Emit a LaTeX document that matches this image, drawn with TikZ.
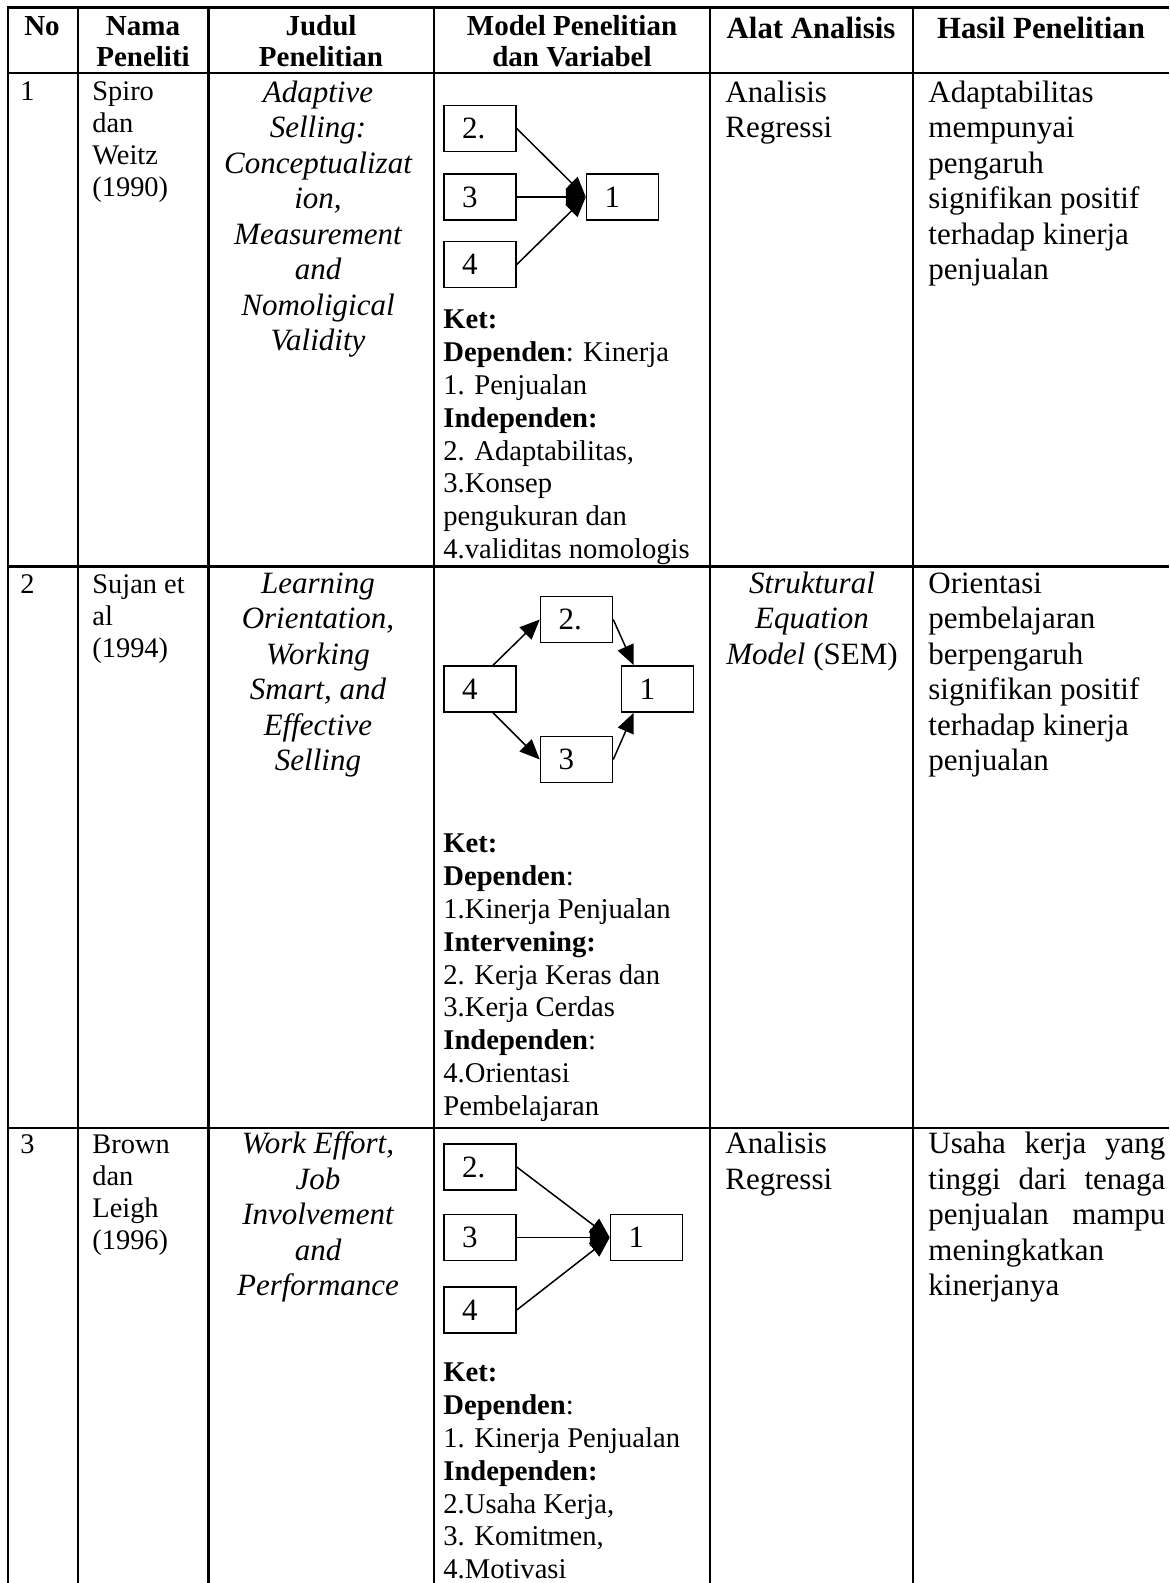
\documentclass[tikz,border=0pt]{standalone}
\usepackage{fontspec}
\setmainfont{Liberation Serif}
\usepackage{tikz}
\usetikzlibrary{positioning,arrows.meta}

\newcommand{\bodyfont}{\fontsize{15.5pt}{17.75pt}\selectfont}
\newcommand{\namefont}{\fontsize{14.2pt}{16pt}\selectfont}
\newcommand{\ketfont}{\fontsize{14.3pt}{16.45pt}\selectfont}
\newcommand{\headfont}{\fontsize{14.5pt}{15.5pt}\selectfont\bfseries}
\newcommand{\bighead}{\fontsize{15.4pt}{16pt}\selectfont\bfseries}

\tikzset{
  grid/.style={line width=1.1pt},
  cell/.style={anchor=north west,inner sep=0pt,align=left,font=\bodyfont},
  ccell/.style={anchor=north,inner sep=0pt,align=center,font=\bodyfont},
  var/.style={draw,line width=0.75pt,minimum width=36pt,minimum height=23pt,
    text width=18pt,inner xsep=9pt,inner ysep=0pt,font=\bodyfont},
  pengaruh/.style={-{Triangle[length=10pt,width=8.5pt]},line width=0.75pt},
}

\begin{document}
\begin{tikzpicture}[x=0.5pt,y=-0.5pt]
                \useasboundingbox (0,0) rectangle (1169,1583);
                \draw[grid] (7,7.5) -- (1169,7.5);
                \draw[grid] (7,72.7) -- (1169,72.7);
                \draw[grid] (7,566.5) -- (1169,566.5);
                \draw[grid] (7,1128) -- (1169,1128);
                \foreach \x in {8,78,208.5,434,710,913}
                    \draw[grid] (\x,7) -- (\x,1583);

                % header
                \node[ccell,font=\headfont] (hno) at (42,13.3) {\strut No};
                \node[ccell,font=\headfont] (hnama) at (143,13.3) {\strut Nama\\Peneliti};
                \node[ccell,font=\headfont] (hjudul) at (321,13.3) {\strut Judul\\Penelitian};
                \node[ccell,font=\headfont] (hmodel) at (572,13.3) {\strut Model Penelitian\\dan Variabel};
                \node[ccell,font=\bighead] (halat) at (811,15.6) {\strut Alat Analisis};
                \node[ccell,font=\bighead] (hhasil) at (1041,15.6) {\strut Hasil Penelitian};

                % baris 1
                \node[cell,font=\namefont] (no1) at (20,77.6) {\strut 1};
                \node[cell,font=\namefont] (nama1) at (92,77.6) {\strut Spiro\\dan\\Weitz\\(1990)};
                \node[ccell,font=\bodyfont\itshape] (judul1) at (318,77.2) {\strut Adaptive\\Selling:\\Conceptualizat\\ion,\\Measurement\\and\\Nomoligical\\Validity};
                \node[cell] (alat1) at (725,77.2) {\strut Analisis\\Regressi};
                \node[cell] (hasil1) at (928,77.2) {\strut Adaptabilitas\\mempunyai\\pengaruh\\signifikan positif\\terhadap kinerja\\penjualan};
                \node[var] (a2) at (480,128.5) {2.};
                \node[var] (a3)[below=10.5pt of a2] {3};
                \node[var] (a4)[below=10pt of a3] {4};
                \node[var] (a1)[right=34.5pt of a3] {1};
                \path[pengaruh] (a2.east) edge (a1.west)
                                (a3.east) edge (a1.west)
                                (a4.east) edge (a1.west);
                \node[cell,font=\ketfont] (ket1) at (443,305) {\strut\textbf{Ket:}\\\textbf{Dependen}: Kinerja\\1. Penjualan\\\textbf{Independen:}\\2. Adaptabilitas,\\3.Konsep\\pengukuran dan\\4.validitas nomologis};

                % baris 2
                \node[cell,font=\namefont] (no2) at (20,570.6) {\strut 2};
                \node[cell,font=\namefont] (nama2) at (92,570.6) {\strut Sujan et\\al\\(1994)};
                \node[ccell,font=\bodyfont\itshape] (judul2) at (318,568.2) {\strut Learning\\Orientation,\\Working\\Smart, and\\Effective\\Selling};
                \node[ccell] (alat2) at (812,568.2) {\strut\textit{Struktural}\\\textit{Equation}\\\textit{Model} (SEM)};
                \node[cell] (hasil2) at (928,568.2) {\strut Orientasi\\pembelajaran\\berpengaruh\\signifikan positif\\terhadap kinerja\\penjualan};
                \node[var] (b4) at (480,689) {4};
                \node[var] (b2)[above right=11pt and 11.5pt of b4] {2.};
                \node[var] (b3)[below right=11.5pt and 11.5pt of b4] {3};
                \node[var] (b1)[right=52pt of b4] {1};
                \path[pengaruh] ([xshift=6.5pt]b4.north) edge (b2.west)
                                (b2.east) edge ([xshift=6.5pt]b1.north west)
                                ([xshift=6.5pt]b4.south) edge (b3.west)
                                (b3.east) edge ([xshift=6.5pt]b1.south west);
                \node[cell,font=\ketfont] (ket2) at (443,829) {\strut\textbf{Ket:}\\\textbf{Dependen}:\\1.Kinerja Penjualan\\\textbf{Intervening:}\\2. Kerja Keras dan\\3.Kerja Cerdas\\\textbf{Independen}:\\4.Orientasi\\Pembelajaran};

                % baris 3
                \node[cell,font=\namefont] (no3) at (20,1130.6) {\strut 3};
                \node[cell,font=\namefont] (nama3) at (92,1130.6) {\strut Brown\\dan\\Leigh\\(1996)};
                \node[ccell,font=\bodyfont\itshape] (judul3) at (318,1128.6) {\strut Work Effort,\\Job\\Involvement\\and\\Performance};
                \node[cell] (alat3) at (725,1128.6) {\strut Analisis\\Regressi};
                \node[cell] (hasil3) at (928,1128.6) {\strut\makebox[118.5pt][s]{Usaha kerja yang}\\\makebox[118.5pt][s]{tinggi dari tenaga}\\\makebox[118.5pt][s]{penjualan mampu}\\meningkatkan\\kinerjanya};
                \node[var] (c2) at (480,1167) {2.};
                \node[var] (c3)[below=11.5pt of c2] {3};
                \node[var] (c4)[below=12.5pt of c3] {4};
                \node[var] (c1)[right=46.5pt of c3] {1};
                \path[pengaruh] (c2.east) edge (c1.west)
                                (c3.east) edge (c1.west)
                                (c4.east) edge (c1.west);
                \node[cell,font=\ketfont] (ket3) at (443,1358) {\strut\textbf{Ket:}\\\textbf{Dependen}:\\1. Kinerja Penjualan\\\textbf{Independen:}\\2.Usaha Kerja,\\3. Komitmen,\\4.Motivasi};
\end{tikzpicture}
\end{document}
